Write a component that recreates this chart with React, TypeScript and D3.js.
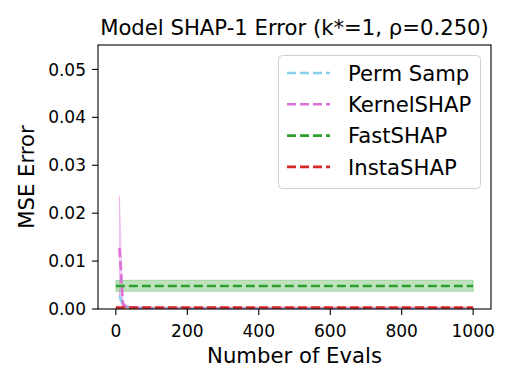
import React from "react";
import * as d3 from "d3";

const evals = [10, 20, 30, 40, 50, 60, 70, 80, 90, 100, 150, 200, 300, 400, 500, 600, 700, 800, 900, 1000];
const permMean = [0.0026, 0.0010, 0.0005, 0.00035, 0.00028, 0.00024, 0.0002, 0.00018, 0.00016, 0.00015, 0.00012, 0.0001, 0.00008, 0.00007, 0.00006, 0.00006, 0.00005, 0.00005, 0.00005, 0.00004];
const permLow = [0.0018, 0.0006, 0.0003, 0.00022, 0.00018, 0.00015, 0.00013, 0.00012, 0.00011, 0.0001, 0.00008, 0.00007, 0.00005, 0.00005, 0.00004, 0.00004, 0.00003, 0.00003, 0.00003, 0.00003];
const permHigh = [0.0034, 0.0014, 0.0007, 0.0005, 0.0004, 0.00033, 0.00028, 0.00025, 0.00022, 0.0002, 0.00016, 0.00013, 0.0001, 0.00009, 0.00008, 0.00008, 0.00007, 0.00007, 0.00007, 0.00006];
const kernelMean = [0.0127, 0.0009, 0.0005, 0.00035, 0.0003, 0.00026, 0.00023, 0.0002, 0.00019, 0.00018, 0.00014, 0.00012, 0.0001, 0.00009, 0.00008, 0.00008, 0.00007, 0.00007, 0.00007, 0.00006];
const kernelLow = [0.0025, 0.0004, 0.0003, 0.00022, 0.0002, 0.00017, 0.00015, 0.00014, 0.00013, 0.00012, 0.0001, 0.00009, 0.00007, 0.00006, 0.00006, 0.00005, 0.00005, 0.00005, 0.00005, 0.00004];
const kernelHigh = [0.0235, 0.0015, 0.0008, 0.0005, 0.0004, 0.00035, 0.0003, 0.00027, 0.00025, 0.00024, 0.00018, 0.00015, 0.00013, 0.00012, 0.0001, 0.0001, 0.00009, 0.00009, 0.00009, 0.00008];
const flatEvals = [0, 1000];
const fastMean = [0.0048, 0.0048];
const fastLow = [0.0037, 0.0037];
const fastHigh = [0.0060, 0.0060];
const instaMean = [0.0003, 0.0003];
const instaLow = [0.0002, 0.0002];
const instaHigh = [0.0004, 0.0004];

const xTicks = [0, 200, 400, 600, 800, 1000];
const yTicks = [0, 0.01, 0.02, 0.03, 0.04, 0.05];
const labels = ["Perm Samp", "KernelSHAP", "FastSHAP", "InstaSHAP"];
const colors = ["#87CEEB", "#DA70D6", "#2ca02c", "#d62728"];

const W = 515, H = 386;
const L = 98, R = 491, T = 45, B = 309;
const FONT = "DejaVu Sans, sans-serif";
const BIG = 21.2;
const TICK = 17;

export default function App() {
  const x = d3.scaleLinear().domain([-50, 1050]).range([L, R]);
  const y = d3.scaleLinear().domain([0, 0.0551]).range([B, T]);

  const series = [
    { xs: evals, m: permMean, lo: permLow, hi: permHigh },
    { xs: evals, m: kernelMean, lo: kernelLow, hi: kernelHigh },
    { xs: flatEvals, m: fastMean, lo: fastLow, hi: fastHigh },
    { xs: flatEvals, m: instaMean, lo: instaLow, hi: instaHigh },
  ];

  const line = d3.line<[number, number]>().x((d) => x(d[0])).y((d) => y(d[1]));
  const area = d3
    .area<[number, number, number]>()
    .x((d) => x(d[0]))
    .y0((d) => y(d[1]))
    .y1((d) => y(d[2]));

  const fmt = d3.format(".2f");

  return (
    <svg width={W} height={H} style={{ position: "fixed", left: 0, top: 0, background: "#fff" }} fontFamily={FONT}>
      <rect x={0} y={0} width={W} height={H} fill="#fff" />
      <defs>
        <clipPath id="plot">
          <rect x={L} y={T} width={R - L} height={B - T} />
        </clipPath>
      </defs>
      <g clipPath="url(#plot)">
        {series.map((s, i) => {
          const ad = s.xs.map((v, j) => [v, s.lo[j], s.hi[j]] as [number, number, number]);
          return (
            <path key={"a" + i} d={area(ad) || ""} fill={colors[i]} fillOpacity={0.3} stroke={colors[i]} strokeOpacity={0.3} strokeWidth={1} />
          );
        })}
        {series.map((s, i) => {
          const ld = s.xs.map((v, j) => [v, s.m[j]] as [number, number]);
          return (
            <path key={"l" + i} d={line(ld) || ""} fill="none" stroke={colors[i]} strokeWidth={2.6} strokeDasharray="9 4" />
          );
        })}
      </g>
      <rect x={L} y={T} width={R - L} height={B - T} fill="none" stroke="#000" strokeWidth={1.1} />
      {xTicks.map((t) => (
        <g key={"x" + t}>
          <line x1={x(t)} x2={x(t)} y1={B} y2={B + 6} stroke="#000" strokeWidth={1.1} />
          <text x={x(t)} y={336.5} textAnchor="middle" fontSize={TICK} fill="#000">{t}</text>
        </g>
      ))}
      {yTicks.map((t) => (
        <g key={"y" + t}>
          <line x1={L - 6} x2={L} y1={y(t)} y2={y(t)} stroke="#000" strokeWidth={1.1} />
          <text x={86} y={y(t)} dy="0.36em" textAnchor="end" fontSize={TICK} fill="#000">{fmt(t)}</text>
        </g>
      ))}
      <text x={(L + R) / 2} y={363} textAnchor="middle" fontSize={BIG} fill="#000">Number of Evals</text>
      <text transform={`translate(33.5,${(T + B) / 2}) rotate(-90)`} textAnchor="middle" fontSize={BIG} fill="#000">MSE Error</text>
      <text x={(L + R) / 2} y={35} textAnchor="middle" fontSize={BIG} fill="#000">Model SHAP-1 Error (k*=1, ρ=0.250)</text>
      <rect x={278.5} y={55.5} width={202} height={133} rx={4} fill="#fff" fillOpacity={0.8} stroke="#d0d0d0" strokeWidth={1} />
      {labels.map((lab, i) => {
        const cy = 73 + i * 31.3;
        return (
          <g key={lab}>
            <line x1={287} x2={330} y1={cy} y2={cy} stroke={colors[i]} strokeWidth={2.6} strokeDasharray="9 4" />
            <text x={348} y={cy} dy="0.36em" fontSize={BIG} fill="#000">{lab}</text>
          </g>
        );
      })}
    </svg>
  );
}
